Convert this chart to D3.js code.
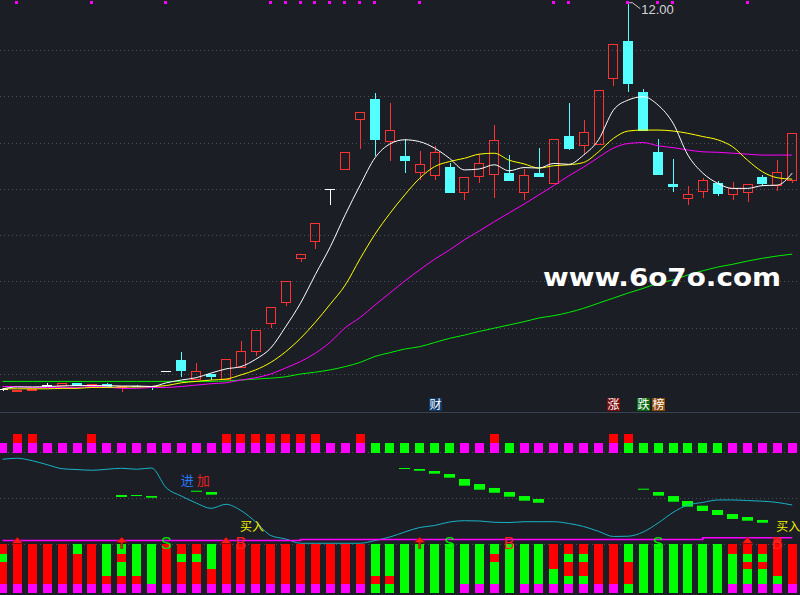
<!DOCTYPE html>
<html>
<head>
<meta charset="utf-8">
<script src="https://cdn.jsdelivr.net/npm/d3@7"></script>
<style>
html, body { margin: 0; padding: 0; background: #1c1e26; overflow: hidden; }
</style>
</head>
<body>
<div id="chart"></div>
<script>
// ---- daily K-line (54 sessions) ----
var open  = [3.67,3.64,3.66,3.76,3.74,3.80,3.74,3.79,3.72,3.75,3.75,4.06,4.30,3.86,3.99,3.86,4.12,4.48,5.08,5.53,
             6.49,6.86,7.99,8.40,9.48,9.94,9.01,8.70,8.34,8.27,8.47,7.90,8.25,8.29,8.34,7.90,8.34,8.10,9.14,8.92,
             8.94,10.37,11.19,10.09,8.80,8.11,7.78,7.94,8.13,7.87,7.90,8.26,8.07,8.16];
var high  = [3.68,3.66,3.68,3.80,3.80,3.80,3.78,3.80,3.75,3.77,3.75,4.06,4.48,4.24,4.01,4.32,4.72,4.95,5.44,6.00,
             6.59,7.26,7.99,8.79,9.65,10.07,9.86,9.07,8.82,8.93,8.55,8.25,8.75,9.38,8.73,8.43,8.88,9.07,9.86,9.49,
             10.13,11.14,12.00,10.15,9.07,8.65,8.06,8.24,8.17,8.14,8.10,8.29,8.62,9.20];
var low   = [3.64,3.64,3.65,3.73,3.74,3.74,3.74,3.72,3.62,3.71,3.66,4.06,3.94,3.86,3.87,3.86,4.12,4.38,5.00,5.46,
             6.43,6.71,7.65,8.40,8.87,8.70,8.61,8.35,8.19,8.19,7.92,7.76,8.13,7.81,8.16,7.76,8.26,8.10,8.85,8.73,
             8.94,10.23,10.10,9.24,8.31,7.94,7.66,7.81,7.85,7.75,7.72,8.07,7.96,8.12];
var close = [3.67,3.66,3.67,3.76,3.80,3.74,3.78,3.72,3.75,3.74,3.71,4.06,4.07,4.06,3.94,4.32,4.49,4.95,5.44,6.00,
             6.59,7.26,7.99,8.79,9.65,9.06,9.27,8.61,8.53,8.79,7.92,8.25,8.55,9.05,8.16,8.29,8.26,9.07,8.87,9.22,
             10.13,11.14,10.27,9.24,8.31,8.04,7.88,8.19,7.89,8.01,8.10,8.11,8.36,9.20];

// moving averages
var ma5  = [3.68,3.72,3.72,3.73,3.74,3.75,3.75,3.75,3.74,3.74,3.73,3.81,3.87,3.92,4.02,4.11,4.16,4.32,4.56,5.02,
            5.53,6.15,6.75,7.44,8.08,8.67,8.97,9.06,9.02,8.88,8.66,8.41,8.43,8.52,8.39,8.46,8.45,8.55,8.53,8.73,
            9.06,9.70,9.92,9.99,9.81,9.42,8.73,8.34,8.12,8.01,8.01,8.07,8.08,8.34];
var ma10 = [3.68,3.68,3.68,3.68,3.69,3.69,3.71,3.71,3.72,3.72,3.73,3.75,3.81,3.84,3.87,3.89,3.98,4.09,4.25,4.48,
            4.77,5.12,5.51,5.92,6.49,7.02,7.47,7.87,8.23,8.48,8.59,8.66,8.75,8.77,8.62,8.54,8.45,8.50,8.52,8.57,
            8.80,9.09,9.25,9.27,9.27,9.25,9.20,9.13,9.06,8.91,8.62,8.37,8.24,8.21];
var ma20 = [3.73,3.73,3.71,3.71,3.71,3.71,3.73,3.72,3.69,3.69,3.71,3.71,3.73,3.76,3.79,3.81,3.87,3.92,4.00,4.13,
            4.27,4.45,4.69,5.00,5.22,5.49,5.75,6.01,6.25,6.48,6.68,6.90,7.09,7.29,7.48,7.67,7.87,8.07,8.28,8.47,
            8.68,8.88,8.98,9.00,8.93,8.89,8.84,8.80,8.79,8.77,8.75,8.73,8.73,8.73];
var ma60 = [3.84,3.84,3.84,3.84,3.84,3.84,3.84,3.84,3.84,3.84,3.84,3.84,3.84,3.84,3.84,3.85,3.87,3.89,3.91,3.94,
            4.00,4.04,4.09,4.16,4.25,4.38,4.46,4.54,4.59,4.68,4.77,4.84,4.92,4.99,5.06,5.13,5.21,5.26,5.33,5.42,
            5.53,5.64,5.75,5.85,5.96,6.03,6.14,6.23,6.31,6.37,6.44,6.50,6.55,6.59];
var priceGrid = [11, 10, 9, 8, 7, 6, 5, 4];

// markers over the price panel
var topDots = [1,6,11,18,19,20,21,22,23,24,25,28,37,38,42,44,45,50];
var newsTags = [{i: 29, t: "财", bg: "#0d3b6e"}, {i: 41, t: "涨", bg: "#7a0c0c"},
                {i: 43, t: "跌", bg: "#0b6b12"}, {i: 44, t: "榜", bg: "#8a4a0c"}];

// square status row
var squareBase = "mmmmmmmmmmmmmmmmmmmmmmmmmggggggmmmgmmmmmmmgggggggmmmmm";
var squareRed  = [1,2,6,15,16,17,18,19,20,21,24,33,41,42];

// middle indicator
var trendLine = [92.4,93.5,90.8,86.5,82.1,81.2,80.4,81.5,82.6,81.5,82.9,61.1,52.3,44.7,38.9,43.3,36.5,24.0,9.3,5.5,
                 0.8,0.8,0.8,0.8,0.8,3.8,7.6,13.1,18.0,20.2,24.0,25.4,25.1,23.7,23.4,24.3,24.3,24.3,22.4,19.1,
                 13.8,8.2,8.5,13.1,22.9,34.4,42.5,45.3,48.0,48.0,47.4,46.7,45.3,42.5];
var segIdx = [8,9,10,13,14,27,28,29,30,31,32,33,34,35,36,43,44,45,46,47,48,49,50,51];
var segHi  = [53.4,53.4,52.3,58.1,56.7,82.9,81.8,79.6,76.3,70.9,65.4,61.1,56.7,52.3,49.1,60.3,56.7,52.3,46.9,41.8,37.1,32.7,29.4,26.2];
var segLo  = [51.3,52.5,50.5,57.0,53.8,81.8,79.9,76.7,72.3,63.6,59.2,55.9,51.6,47.2,45.0,59.2,52.7,46.1,40.7,36.0,31.6,27.3,25.4,23.2];
var baseIdx = [0, 20, 47, 53];
var baseVal = [3.8, 4.9, 6.8, 6.8];
var buyIdx = [16, 52];

// bottom stacked blocks, colours from top block to bottom block
var blockLevels = [100, 80, 63, 49, 35, 18, 0];
var stackCodes = ["rgrrrm","rrrrrm","rrrrrm","rrrrrm","rrrrrm","grrrrm","rrrrrm","ggggrm","grggrm","ggggrm",
                  "gggggm","rrrrrm","rgrrrm","rgrrrm","gggrrm","rrrrrm","rrrrrm","rrrrrm","rrrrrm","rrrrrm",
                  "rrrrrm","rrrrrm","rrrrrm","rrrrrm","rrrrrm","ggggrg","ggggrg","gggggg","gggggg","gggggg",
                  "gggggg","gggggm","gggggm","grgggm","gggggg","gggggm","gggggm","rrrggm","rgrrgm","rgrrgm",
                  "rrrrrm","rrrrrm","ggrrrg","gggggg","gggggg","gggggg","gggggg","gggggg","gggggg","rggggm",
                  "rgrggm","rgrggm","rrrrgm","rrrrrm"];
var triIdx = [1, 15, 50, 52];
var arrowIdx = [8, 28];
var sIdx = [11, 30, 44];
var bIdx = [16, 34, 52];

var W = 800, H = 595;
var RED = "#ff3232", CYAN = "#54ffff";
var codeColor = {r: "#ff0000", g: "#00ff00", m: "#ff00ff"};
var days = d3.range(open.length);

var x = d3.scaleLinear().domain([0, 53]).range([2.5, 792.2]);
var yPrice = d3.scaleLinear().domain([4, 11]).range([374, 50]);
var yInd = d3.scaleLinear().domain([0, 100]).range([544, 452.3]);
var yBar = d3.scaleLinear().domain([0, 100]).range([593, 544]);

var svg = d3.select("#chart").append("svg")
    .attr("width", W)
    .attr("height", H)
    .style("display", "block");

svg.append("rect").attr("width", W).attr("height", H).attr("fill", "#1c1e26");

function crisp(v) { return Math.round(v) + 0.5; }

// grid
svg.append("g").selectAll("line")
    .data(priceGrid)
    .enter().append("line")
    .attr("x1", 0).attr("x2", W)
    .attr("y1", function(d) { return crisp(yPrice(d)); })
    .attr("y2", function(d) { return crisp(yPrice(d)); })
    .attr("stroke", "#4a4f5a")
    .attr("stroke-dasharray", "1,3");

svg.append("g").selectAll("line")
    .data([100, 50, 0])
    .enter().append("line")
    .attr("x1", 0).attr("x2", W)
    .attr("y1", function(d) { return crisp(yInd(d)); })
    .attr("y2", function(d) { return crisp(yInd(d)); })
    .attr("stroke", "#4a4f5a")
    .attr("stroke-dasharray", "1,3");

svg.append("line")
    .attr("x1", 0).attr("x2", W)
    .attr("y1", 412.5).attr("y2", 412.5)
    .attr("stroke", "#3a414e");

// candles
var kg = svg.append("g").attr("class", "candles");
kg.selectAll("g")
    .data(days)
    .enter().append("g")
    .each(function(i) {
        var g = d3.select(this);
        var cx = crisp(x(i));
        var o = yPrice(open[i]), c = yPrice(close[i]);
        var hi = yPrice(high[i]), lo = yPrice(low[i]);
        if (close[i] > open[i]) {
            var top = Math.round(c), bot = Math.round(o);
            if (hi < top) g.append("line").attr("x1", cx).attr("x2", cx).attr("y1", Math.round(hi)).attr("y2", top).attr("stroke", RED);
            if (lo > bot) g.append("line").attr("x1", cx).attr("x2", cx).attr("y1", bot).attr("y2", Math.round(lo)).attr("stroke", RED);
            g.append("rect")
                .attr("x", Math.round(x(i) - 5) + 0.5)
                .attr("y", top + 0.5)
                .attr("width", 9)
                .attr("height", Math.max(1, bot - top - 1))
                .attr("fill", "none")
                .attr("stroke", RED);
        } else if (close[i] < open[i]) {
            g.append("line").attr("x1", cx).attr("x2", cx)
                .attr("y1", Math.round(hi)).attr("y2", Math.round(lo))
                .attr("stroke", CYAN);
            g.append("rect")
                .attr("x", Math.round(x(i) - 5))
                .attr("y", Math.round(o))
                .attr("width", 10)
                .attr("height", Math.max(1, Math.round(c) - Math.round(o)))
                .attr("fill", CYAN);
        } else {
            if (lo - hi > 1) g.append("line").attr("x1", cx).attr("x2", cx)
                .attr("y1", Math.round(hi)).attr("y2", Math.round(lo)).attr("stroke", "#ffffff");
            g.append("line")
                .attr("x1", Math.round(x(i) - 5)).attr("x2", Math.round(x(i) + 5))
                .attr("y1", crisp(c)).attr("y2", crisp(c))
                .attr("stroke", "#ffffff");
        }
    });

// moving averages
var maLine = d3.line()
    .curve(d3.curveMonotoneX)
    .x(function(d, i) { return x(i); })
    .y(function(d) { return yPrice(d); });

[[ma60, "#00f000"], [ma20, "#ff00ff"], [ma10, "#ffff00"], [ma5, "#ffffff"]].forEach(function(s) {
    svg.append("path")
        .datum(s[0])
        .attr("fill", "none")
        .attr("stroke", s[1])
        .attr("stroke-width", 1)
        .attr("d", maLine);
});

// highest price note
var hiIdx = high.indexOf(d3.max(high));
var hx = x(hiIdx), hy = yPrice(high[hiIdx]);
svg.append("path")
    .attr("d", "M" + (hx + 1) + "," + (hy - 1) + "L" + (hx + 4) + "," + (hy - 1) + "L" + (hx + 12) + "," + (hy + 5))
    .attr("fill", "none")
    .attr("stroke", "#d0d0d0");
svg.append("text")
    .attr("x", hx + 13)
    .attr("y", hy + 10)
    .attr("fill", "#d4d4d4")
    .style("font-family", "'Liberation Sans', Arial, sans-serif")
    .style("font-size", "13px")
    .text(high[hiIdx].toFixed(2));

// small magenta dots on the top edge
svg.append("g").selectAll("rect")
    .data(topDots)
    .enter().append("rect")
    .attr("x", function(d) { return Math.round(x(d) - 2); })
    .attr("y", 1)
    .attr("width", 3)
    .attr("height", 3)
    .attr("fill", "#ff00ff");

// watermark
svg.append("text")
    .attr("x", 543)
    .attr("y", 286)
    .attr("textLength", 238)
    .attr("lengthAdjust", "spacingAndGlyphs")
    .attr("fill", "#ffffff")
    .style("font-family", "'DejaVu Sans', sans-serif")
    .style("font-weight", "bold")
    .style("font-size", "25px")
    .text("www.6o7o.com");

// news tags
var tag = svg.append("g").selectAll("g")
    .data(newsTags)
    .enter().append("g")
    .attr("transform", function(d) { return "translate(" + Math.round(x(d.i) - 6) + ",398)"; });
tag.append("rect")
    .attr("width", 13)
    .attr("height", 13)
    .attr("fill", function(d) { return d.bg; });
tag.append("text")
    .attr("x", 6.5)
    .attr("y", 11)
    .attr("text-anchor", "middle")
    .attr("fill", "#ffffff")
    .style("font-family", "'Noto Sans CJK SC', sans-serif")
    .style("font-size", "12px")
    .text(function(d) { return d.t; });

// square status row
var sq = svg.append("g").attr("shape-rendering", "crispEdges");
sq.selectAll(".base")
    .data(squareBase.split(""))
    .enter().append("rect")
    .attr("class", "base")
    .attr("x", function(d, i) { return Math.round(x(i) - 4.5); })
    .attr("y", 443)
    .attr("width", 9)
    .attr("height", 9.5)
    .attr("fill", function(d) { return codeColor[d]; });
sq.selectAll(".red")
    .data(squareRed)
    .enter().append("rect")
    .attr("class", "red")
    .attr("x", function(d) { return Math.round(x(d) - 4.5); })
    .attr("y", 433.5)
    .attr("width", 9)
    .attr("height", 9.5)
    .attr("fill", "#ff0000");

// middle indicator: green step blocks, cyan trend, text
svg.append("g").selectAll("rect")
    .data(segIdx)
    .enter().append("rect")
    .attr("x", function(d) { return Math.round(x(d) - 5.5); })
    .attr("width", 11)
    .attr("y", function(d, k) { return yInd(segHi[k]); })
    .attr("height", function(d, k) { return Math.max(1, yInd(segLo[k]) - yInd(segHi[k])); })
    .attr("fill", "#00ff00");

svg.append("path")
    .datum(trendLine)
    .attr("fill", "none")
    .attr("stroke", "#17b3c4")
    .attr("stroke-width", 1)
    .attr("d", d3.line()
        .curve(d3.curveMonotoneX)
        .x(function(d, i) { return x(i); })
        .y(function(d) { return yInd(d); }));

var cjk = "'Noto Sans CJK SC', sans-serif";
svg.append("text")
    .attr("x", x(12) + 6).attr("y", yInd(64))
    .attr("text-anchor", "middle")
    .attr("fill", "#2a7aff")
    .style("font-family", cjk).style("font-size", "13px")
    .text("进");
svg.append("text")
    .attr("x", x(13) + 7).attr("y", yInd(64))
    .attr("text-anchor", "middle")
    .attr("fill", "#e82020")
    .style("font-family", cjk).style("font-size", "13px")
    .text("加");

// bottom stacked blocks
var stack = svg.append("g").attr("shape-rendering", "crispEdges");
stack.selectAll("g")
    .data(stackCodes)
    .enter().append("g")
    .each(function(code, i) {
        d3.select(this).selectAll("rect")
            .data(code.split(""))
            .enter().append("rect")
            .attr("x", Math.round(x(i) - 4.5))
            .attr("width", 9)
            .attr("y", function(c, k) { return yBar(blockLevels[k]); })
            .attr("height", function(c, k) { return yBar(blockLevels[k + 1]) - yBar(blockLevels[k]); })
            .attr("fill", function(c) { return codeColor[c]; });
    });

// magenta base line
svg.append("path")
    .datum(baseIdx)
    .attr("fill", "none")
    .attr("stroke", "#ff00ff")
    .attr("stroke-width", 1.7)
    .attr("d", d3.line()
        .curve(d3.curveStepAfter)
        .x(function(d) { return x(d); })
        .y(function(d, k) { return yInd(baseVal[k]); }));

svg.append("g").selectAll("text")
    .data(buyIdx)
    .enter().append("text")
    .attr("x", function(d) { return x(d) - 1; })
    .attr("y", yInd(14))
    .attr("fill", "#f0f000")
    .style("font-family", cjk)
    .style("font-size", "12px")
    .text("买入");

// signals
var top0 = yBar(100);
svg.append("g").selectAll("path")
    .data(triIdx)
    .enter().append("path")
    .attr("transform", function(d) { return "translate(" + x(d) + "," + top0 + ")"; })
    .attr("d", "M0,-7L5.5,-0.5L-5.5,-0.5Z")
    .attr("fill", "#ff1a1a")
    .attr("stroke", "#7a0000")
    .attr("stroke-width", 0.6);
svg.append("g").selectAll("path")
    .data(arrowIdx)
    .enter().append("path")
    .attr("transform", function(d) { return "translate(" + x(d) + "," + top0 + ")"; })
    .attr("d", "M0,-7L5.5,-1.5L1,-1.5L1,4.5L-1,4.5L-1,-1.5L-5.5,-1.5Z")
    .attr("fill", "#ff1a1a")
    .attr("stroke", "#7a0000")
    .attr("stroke-width", 0.6);

svg.append("g").selectAll("text")
    .data(sIdx)
    .enter().append("text")
    .attr("x", function(d) { return x(d); })
    .attr("y", top0 + 5)
    .attr("text-anchor", "middle")
    .attr("fill", "#00e000")
    .style("font-family", "'Liberation Sans', Arial, sans-serif")
    .style("font-size", "16px")
    .text("S");
svg.append("g").selectAll("text")
    .data(bIdx)
    .enter().append("text")
    .attr("x", function(d) { return x(d); })
    .attr("y", top0 + 5)
    .attr("text-anchor", "middle")
    .attr("fill", "#ff2020")
    .style("font-family", "'Liberation Sans', Arial, sans-serif")
    .style("font-size", "16px")
    .text("B");
</script>
</body>
</html>
